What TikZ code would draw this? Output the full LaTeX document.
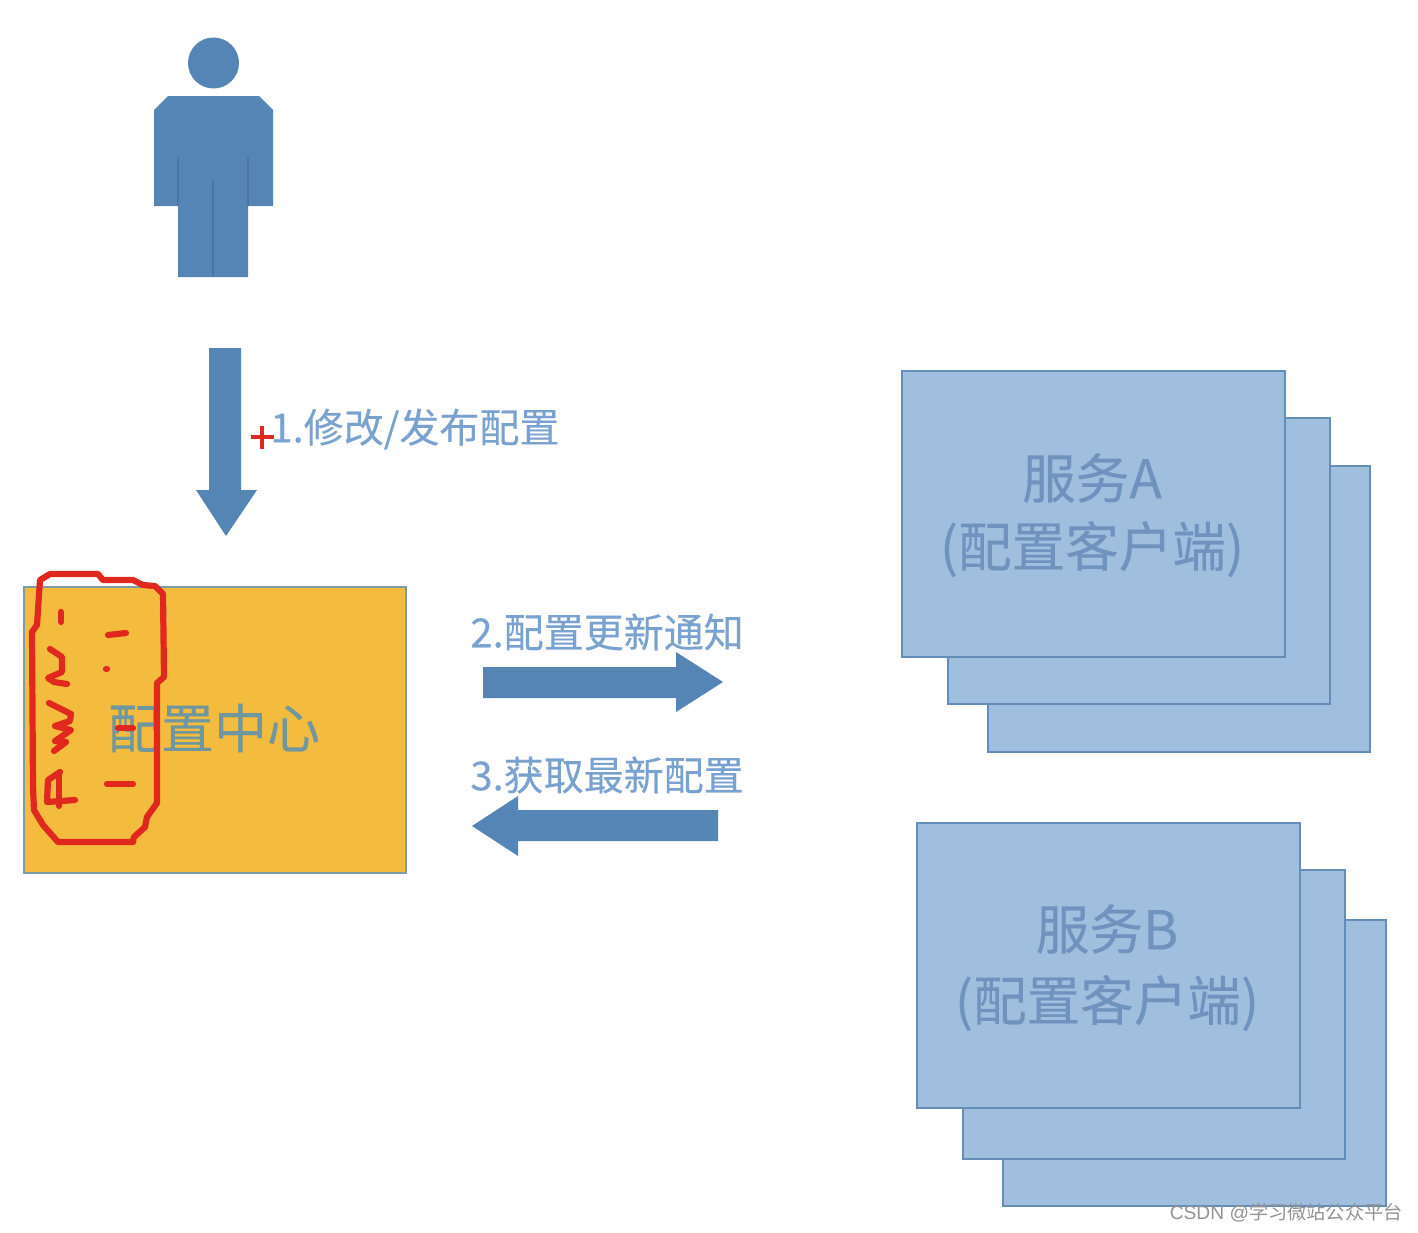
\documentclass[tikz,border=0pt]{standalone}
\usepackage{fontspec}
\setmainfont[FakeBold=0.25]{Noto Sans CJK SC}
\newfontfamily\wmfont{Liberation Sans}
\newfontfamily\wmcjk{Noto Sans CJK SC}
\definecolor{personblue}{HTML}{5585B5}
\definecolor{personline}{HTML}{4A76A4}
\definecolor{boxfill}{HTML}{A0BFDF}
\definecolor{boxline}{HTML}{648DB8}
\definecolor{centerfill}{HTML}{F4BC3E}
\definecolor{centerline}{HTML}{7D9CA6}
\definecolor{centertext}{HTML}{6F97A0}
\definecolor{boxtext}{HTML}{6F93BE}
\definecolor{labeltext}{HTML}{7AA2D0}
\definecolor{inkred}{HTML}{E0281E}
\tikzset{
  servicebox/.style={fill=boxfill,draw=boxline,line width=1.1pt},
  blockarrow/.style={fill=personblue,draw=none},
  persona/.style={fill=personblue,draw=none},
  personseam/.style={draw=personline,line width=0.6pt},
  ink/.style={draw=inkred,line width=3.1pt,line cap=round,line join=round},
  stepnote/.style={text=labeltext,anchor=west,inner sep=0pt,font=\fontsize{20pt}{22pt}\selectfont},
  servicetext/.style={text=boxtext,inner sep=0pt,font=\fontsize{26.8pt}{30pt}\selectfont},
}
\begin{document}
\begin{tikzpicture}[x=0.5pt,y=-0.5pt]
\useasboundingbox (0,0) rectangle (1418,1232);
\fill[white] (0,0) rectangle (1418,1232);

% person
\fill[persona] (213.5,63) circle[radius=25.5];
\fill[persona] (168,96) -- (259,96) -- (273,110) -- (273,206) -- (248,206) -- (248,277) -- (178,277) -- (178,206) -- (154,206) -- (154,110) -- cycle;
\draw[personseam] (178,157) -- (178,206);
\draw[personseam] (248,157) -- (248,206);
\draw[personseam] (213,180) -- (213,277);

% block arrows
\fill[blockarrow] (209,348) -- (241,348) -- (241,490) -- (257,490) -- (226,536) -- (196,490) -- (209,490) -- cycle;
\fill[blockarrow] (483,667) -- (676,667) -- (676,652) -- (723,682) -- (676,712) -- (676,698) -- (483,698) -- cycle;
\fill[blockarrow] (718,810) -- (518,810) -- (518,796) -- (472,826) -- (518,856) -- (518,841) -- (718,841) -- cycle;

% config centre
\draw[fill=centerfill,draw=centerline,line width=1.1pt] (24,587) rectangle (406,873);
\node[text=centertext,inner sep=0pt,font=\fontsize{26.5pt}{30pt}\selectfont] (center) at (214,728) {配置中心};

% service A
\draw[servicebox] (988,466) rectangle (1370,752);
\draw[servicebox] (948,418) rectangle (1330,704);
\draw[servicebox] (902,371) rectangle (1285,657);
\node[servicetext] (svcA) at (1092,478) {服务A};
\node[servicetext] (svcAsub) at (1092,549) {(配置客户端)};

% service B
\draw[servicebox] (1003,920) rectangle (1386,1206);
\draw[servicebox] (963,870) rectangle (1345,1159);
\draw[servicebox] (917,823) rectangle (1300,1108);
\node[servicetext] (svcB) at (1107,929) {服务B};
\node[servicetext] (svcBsub) at (1107,1003) {(配置客户端)};

% labels
\node[stepnote] (s1) at (270,429) {1.修改/发布配置};
\node[stepnote] (s2) at (470,632) {2.配置更新通知};
\node[stepnote] (s3) at (470,775) {3.获取最新配置};

% red freehand
\draw[ink] (40,580) -- (50,574) -- (98,574) -- (103,580) -- (133,580) -- (143,585) -- (155,586) -- (163,594) -- (164,677) -- (157,683) -- (157,803) -- (147,817) -- (145,827) -- (134,837) -- (133,842) -- (58,842) -- (43,825) -- (34,810) -- (33,787) -- (32,632) -- (37,625) -- cycle;
\draw[ink] (61,612) -- (61,622);
\draw[ink] (108,635) -- (126,633);
\draw[ink] (50,649) -- (62,657) -- (62,672) -- (48,678) -- (54,682) -- (67,684);
\draw[ink] (106,669) -- (107,669);
\draw[ink] (49,703) -- (71,714) -- (70,721) -- (55,726) -- (71,730) -- (55,741) -- (66,742) -- (54,751);
\draw[ink] (118,728) -- (133,728);
\draw[ink] (60,772) -- (48,780) -- (47,802) -- (75,800);
\draw[ink] (59,774) -- (59,806);
\draw[ink] (107,784) -- (133,784);
\draw[draw=inkred,line width=1.8pt] (251,437) -- (274,437);
\draw[draw=inkred,line width=1.8pt] (262,426) -- (262,449);

% watermark
\node[anchor=east,inner sep=0pt,text=gray!85,font=\fontsize{9.6pt}{11pt}\selectfont] (mark) at (1403,1213) {\wmfont CSDN @\wmcjk 学习微站公众平台};
\end{tikzpicture}
\end{document}
